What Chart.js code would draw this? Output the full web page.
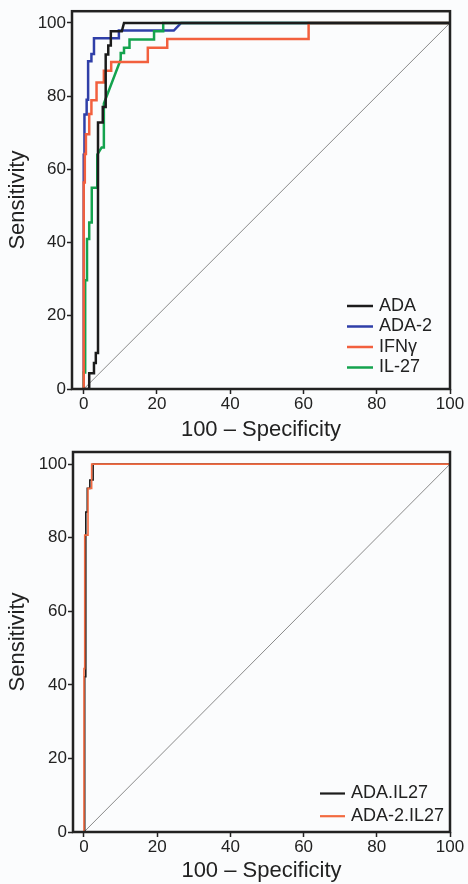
<!DOCTYPE html>
<html>
<head>
<meta charset="utf-8">
<script src="https://cdn.jsdelivr.net/npm/chart.js@4.4.1/dist/chart.umd.min.js"></script>
<style>
html, body { margin: 0; padding: 0; background: #fbfcfd; }
canvas { position: absolute; left: 0; display: block; }
#rocTop { top: 0; }
#rocBottom { top: 440px; }
</style>
</head>
<body>
<canvas id="rocTop" width="468" height="444"></canvas>
<canvas id="rocBottom" width="468" height="444"></canvas>
<script>
//Tick labels for both axes:
const tickValues = [0, 20, 40, 60, 80, 100];

//Top panel (x = 100 - specificity, y = sensitivity):
const adaX = [0, 1.5, 1.5, 2.8, 2.8, 3.3, 3.3, 3.9, 3.9, 5.2, 5.2, 6, 6, 6.7, 6.7, 7.4, 7.4, 10.4, 11, 100];
const adaY = [0, 0, 4.3, 4.3, 7.1, 7.1, 9.8, 9.8, 72.8, 72.8, 77, 77, 91.4, 91.4, 93.8, 93.8, 97.7, 97.7, 100, 100];

const ada2X = [0, 0, 0.2, 0.2, 0.8, 0.8, 1.2, 1.2, 2.1, 2.1, 2.8, 2.8, 9.6, 9.6, 24.6, 26.6, 100];
const ada2Y = [0, 64, 64, 75, 75, 79, 79, 89.5, 89.5, 91.5, 91.5, 95.8, 95.8, 97.9, 97.9, 100, 100];

const ifnX = [0, 0, 0.3, 0.3, 0.6, 0.6, 1.5, 1.5, 2.1, 2.1, 3.5, 3.5, 5.5, 5.5, 7.5, 7.5, 17.5, 17.5, 22.8, 22.8, 61.4, 61.4, 100];
const ifnY = [0, 56.4, 56.4, 64.2, 64.2, 69.6, 69.6, 75.1, 75.1, 78.9, 78.9, 83.7, 83.7, 86.9, 86.9, 89.3, 89.3, 93.2, 93.2, 95.6, 95.6, 100, 100];

const il27X = [0, 0, 0.4, 0.4, 0.9, 0.9, 1.5, 1.5, 2.2, 2.2, 3.7, 3.7, 4.9, 5.5, 5.5, 10.1, 10.1, 11, 11, 12.5, 12.5, 19.2, 19.2, 21.7, 21.7, 100];
const il27Y = [0, 4.5, 4.5, 29.7, 29.7, 41, 41, 45.5, 45.5, 55, 55, 64, 66, 66, 78, 90, 91.8, 91.8, 93.2, 93.2, 95.5, 95.5, 97.7, 97.7, 100, 100];

//Bottom panel:
const adaIl27X = [0, 0.2, 0.2, 0.5, 0.5, 0.9, 0.9, 1.6, 1.6, 2.5, 2.5, 100];
const adaIl27Y = [0, 0, 42.2, 42.2, 87, 87, 93.4, 93.4, 95.7, 95.7, 100, 100];

const ada2Il27X = [0, 0, 0.2, 0.2, 1.1, 1.1, 2.1, 2.1, 100];
const ada2Il27Y = [0, 44.4, 44.4, 80.7, 80.7, 93.4, 93.4, 100, 100];

//Chance line:
const refX = [0, 100];
const refY = [0, 100];

const toPoints = (xs, ys) => xs.map((x, i) => ({x: x, y: ys[i]}));

const FONT = "'Liberation Sans', Arial, Helvetica, sans-serif";
const INK = '#222';

//Box around the plot + legend inside it
const framePlugin = {
    id: 'frame',
    afterDatasetsDraw(chart) {
        const {ctx, chartArea: a} = chart;
        ctx.save();
        ctx.strokeStyle = INK;
        ctx.lineWidth = 2.5;
        ctx.strokeRect(a.left, a.top, a.right - a.left, a.bottom - a.top);
        ctx.restore();
    }
};

const legendPlugin = {
    id: 'innerLegend',
    afterDraw(chart, args, opts) {
        const {ctx} = chart;
        const sets = chart.data.datasets.filter(d => !d.hideInLegend);
        ctx.save();
        ctx.font = '18px ' + FONT;
        ctx.textBaseline = 'middle';
        ctx.fillStyle = INK;
        sets.forEach((d, i) => {
            const y = opts.y + i * opts.gap;
            ctx.strokeStyle = d.borderColor;
            ctx.lineWidth = opts.lineWidth;
            ctx.beginPath();
            ctx.moveTo(opts.x, y);
            ctx.lineTo(opts.x + opts.lineLen, y);
            ctx.stroke();
            ctx.fillText(d.label, opts.x + opts.lineLen + 6, y);
        });
        ctx.restore();
    }
};

function makeOptions(cfg) {
    return {
        responsive: false,
        animation: false,
        layout: { padding: { top: cfg.padTop, right: 18, bottom: 0, left: 0 } },
        elements: { point: { radius: 0 }, line: { tension: 0 } },
        plugins: {
            legend: { display: false },
            tooltip: { enabled: false },
            innerLegend: cfg.legend
        },
        scales: {
            x: {
                type: 'linear',
                min: cfg.xMin,
                max: 100,
                afterBuildTicks: s => { s.ticks = tickValues.map(v => ({value: v})); },
                afterFit: s => { s.height = cfg.xAxisHeight; },
                grid: { drawOnChartArea: false, drawTicks: true, tickLength: 5, tickWidth: 1.5, tickColor: INK },
                border: { display: false },
                ticks: { color: INK, font: { family: FONT, size: 17 }, padding: 0, maxRotation: 0 },
                title: { display: true, text: '100 \u2013 Specificity', color: INK,
                         font: { family: FONT, size: 22 }, padding: { top: 0, bottom: cfg.titlePad } }
            },
            y: {
                type: 'linear',
                min: 0,
                max: cfg.yMax,
                afterBuildTicks: s => { s.ticks = tickValues.map(v => ({value: v})); },
                afterFit: s => { s.width = cfg.yAxisWidth; },
                grid: { drawOnChartArea: false, drawTicks: true, tickLength: 5, tickWidth: 1.5, tickColor: INK },
                border: { display: false },
                ticks: { color: INK, font: { family: FONT, size: 17 }, padding: 1 },
                title: { display: true, text: 'Sensitivity', color: INK,
                         font: { family: FONT, size: 22 }, padding: { top: 5, bottom: 0 } }
            }
        }
    };
}

const refLine = {
    label: 'ref', hideInLegend: true, data: toPoints(refX, refY),
    borderColor: '#8a8a8a', borderWidth: 1, order: 9
};

new Chart(document.getElementById('rocTop'), {
    type: 'line',
    data: {
        datasets: [
            { label: 'ADA', data: toPoints(adaX, adaY), borderColor: '#1c1c1c', borderWidth: 2.5, order: 0 },
            { label: 'ADA-2', data: toPoints(ada2X, ada2Y), borderColor: '#2f3fa8', borderWidth: 2.5, order: 3 },
            { label: 'IFN\u03b3', data: toPoints(ifnX, ifnY), borderColor: '#f2603e', borderWidth: 2.5, order: 1 },
            { label: 'IL-27', data: toPoints(il27X, il27Y), borderColor: '#14a34e', borderWidth: 2.5, order: 2 },
            refLine
        ]
    },
    options: makeOptions({
        padTop: 10, xMin: -3.2, yMax: 103.2, xAxisHeight: 55, yAxisWidth: 72, titlePad: 1,
        legend: { x: 347, y: 306, gap: 20.5, lineLen: 26, lineWidth: 2.5 }
    }),
    plugins: [framePlugin, legendPlugin]
});

new Chart(document.getElementById('rocBottom'), {
    type: 'line',
    data: {
        datasets: [
            { label: 'ADA.IL27', data: toPoints(adaIl27X, adaIl27Y), borderColor: '#1c1c1c', borderWidth: 1.6, order: 1 },
            { label: 'ADA-2.IL27', data: toPoints(ada2Il27X, ada2Il27Y), borderColor: '#f26a40', borderWidth: 1.6, order: 0 },
            Object.assign({}, refLine, { data: toPoints(refX, refY) })
        ]
    },
    options: makeOptions({
        padTop: 12, xMin: -3.0, yMax: 103.3, xAxisHeight: 52, yAxisWidth: 73, titlePad: 0,
        legend: { x: 320, y: 353.5, gap: 22.7, lineLen: 25, lineWidth: 2.2 }
    }),
    plugins: [framePlugin, legendPlugin]
});
</script>
</body>
</html>
